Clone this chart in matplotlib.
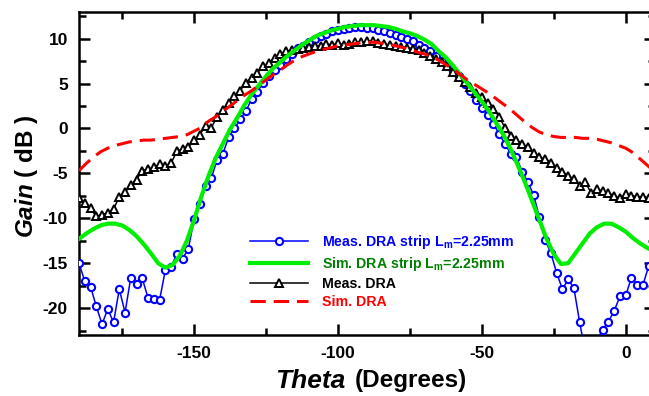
import numpy as np
import matplotlib
matplotlib.use("Agg")
import matplotlib.pyplot as plt
from matplotlib.ticker import MultipleLocator

plt.rcParams['font.family'] = ['Liberation Sans', 'DejaVu Sans']
plt.rcParams['font.weight'] = 'bold'
plt.rcParams['axes.unicode_minus'] = False
plt.rcParams['mathtext.fontset'] = 'custom'
plt.rcParams['mathtext.rm'] = 'Liberation Sans:bold'
plt.rcParams['mathtext.it'] = 'Liberation Sans:bold:italic'
plt.rcParams['mathtext.bf'] = 'Liberation Sans:bold'

# measured patterns, sampled every 2 degrees
theta_meas = np.arange(-190, 9, 2)
gain_meas_strip = [
    -15.0, -17.0, -17.6, -19.8, -21.8, -20.1, -21.6, -17.9, -20.5, -16.6,
    -17.3, -16.7, -18.9, -19.0, -19.1, -15.8, -15.4, -14.0, -14.5, -13.4,
    -10.1, -8.4, -6.4, -5.5, -3.5, -2.8, -1.0, 0.0, 1.0, 1.9,
    3.3, 4.1, 5.1, 5.8, 6.5, 7.1, 7.7, 8.3, 9.0, 9.2,
    9.6, 10.0, 10.3, 10.5, 10.8, 11.0, 11.1, 11.2, 11.3, 11.3,
    11.2, 11.2, 11.0, 10.8, 10.6, 10.4, 10.2, 10.0, 9.7, 9.3,
    9.0, 8.6, 8.1, 7.5, 7.1, 6.4, 5.8, 5.0, 4.2, 3.2,
    2.3, 1.5, 0.5, -0.6, -1.7, -2.8, -3.2, -4.8, -6.0, -7.4,
    -9.9, -12.4, -13.9, -16.1, -17.9, -16.8, -17.8, -21.6, -25.0, -26.0,
    -23.6, -22.4, -21.5, -20.3, -18.7, -18.6, -16.6, -17.4, -17.4, -15.3,
]
gain_meas_dra = [
    -7.8, -8.3, -8.9, -9.8, -9.6, -9.4, -9.0, -7.6, -7.1, -6.3,
    -5.7, -4.7, -4.5, -4.3, -4.0, -4.2, -3.9, -2.5, -2.3, -2.1,
    -1.3, -0.7, 0.3, 0.1, 1.3, 2.0, 2.8, 3.6, 4.2, 5.1,
    5.6, 6.2, 6.9, 7.3, 7.8, 8.3, 8.6, 8.7, 8.9, 9.0,
    9.1, 9.2, 9.2, 9.4, 9.3, 9.5, 9.3, 9.4, 9.6, 9.6,
    9.7, 9.7, 9.5, 9.4, 9.3, 9.2, 9.1, 9.0, 8.9, 8.7,
    8.4, 8.1, 7.7, 7.4, 7.0, 6.3, 5.7, 5.2, 4.6, 4.0,
    3.5, 2.8, 2.2, 1.3, 0.1, -0.8, -1.3, -1.7, -2.1, -2.7,
    -3.2, -3.4, -3.8, -4.4, -4.8, -5.3, -5.6, -6.4, -6.0, -7.2,
    -6.7, -7.0, -7.2, -7.5, -7.8, -7.3, -7.5, -7.6, -7.6, -7.7,
]

# simulated patterns, sampled every 2.5 degrees
theta_sim = np.arange(-190, 10.01, 2.5)
gain_sim_strip = [
    -12.3, -11.7, -11.2, -10.8, -10.6, -10.6, -10.8, -11.3, -12.0, -12.9,
    -13.9, -15.0, -15.5, -15.2, -14.2, -12.5, -10.2, -7.6, -5.3, -3.3,
    -1.7, -0.1, 1.2, 2.6, 3.8, 4.8, 5.8, 6.7, 7.4, 8.1,
    8.7, 9.3, 9.8, 10.3, 10.6, 10.9, 11.1, 11.3, 11.4, 11.5,
    11.5, 11.5, 11.4, 11.3, 11.1, 10.8, 10.6, 10.3, 9.9, 9.4,
    8.6, 7.9, 7.0, 6.0, 5.0, 4.0, 3.0, 1.9, 0.6, -0.7,
    -2.3, -4.1, -6.0, -8.1, -10.2, -12.3, -14.0, -15.1, -15.0, -13.9,
    -12.8, -11.7, -11.0, -10.6, -10.6, -11.0, -11.5, -12.2, -12.8, -13.3,
    -13.7,
]
gain_sim_dra = [
    -4.7, -3.9, -3.2, -2.6, -2.2, -1.9, -1.7, -1.5, -1.4, -1.3,
    -1.3, -1.2, -1.1, -1.0, -0.9, -0.7, -0.3, 0.1, 0.8, 1.3,
    1.9, 2.5, 3.1, 3.7, 4.2, 4.8, 5.4, 6.0, 6.5, 7.1,
    7.6, 8.0, 8.3, 8.6, 8.8, 9.0, 9.2, 9.3, 9.4, 9.5,
    9.6, 9.6, 9.5, 9.4, 9.2, 9.0, 8.8, 8.5, 8.3, 8.0,
    7.6, 7.1, 6.6, 6.0, 5.4, 4.9, 4.4, 3.9, 3.3, 2.7,
    2.1, 1.4, 0.7, 0.1, -0.4, -0.7, -0.9, -1.0, -1.0, -1.0,
    -1.1, -1.1, -1.2, -1.4, -1.6, -1.9, -2.2, -2.7, -3.4, -4.1,
    -4.8,
]

labels = [
    r'Meas. DRA strip $\mathbf{L_m}$=2.25mm',
    r'Sim. DRA strip $\mathbf{L_m}$=2.25mm',
    'Meas. DRA',
    'Sim. DRA',
]
label_colors = ['#0000ff', '#008000', '#000000', '#ff0000']

fig = plt.figure(figsize=(6.49, 3.96), dpi=100)
ax = fig.add_axes([79 / 649, 1 - 335 / 396, 575.5 / 649, 323.3 / 396])

h1, = ax.plot(theta_meas, gain_meas_strip, color='#0000ff', lw=1.1,
              marker='o', ms=5.2, mew=1.5, mfc='white', mec='#0000ff', zorder=3)
h3, = ax.plot(theta_meas, gain_meas_dra, color='black', lw=1.1,
              marker='^', ms=5.8, mew=1.4, mfc='white', mec='black', zorder=4)
h2, = ax.plot(theta_sim, gain_sim_strip, color='#00ee00', lw=3.0, zorder=5)
h4, = ax.plot(theta_sim, gain_sim_dra, color='#ff0000', lw=2.2,
              linestyle=(0, (5, 2.6)), zorder=6)

ax.set_xlim(-190, 10)
ax.set_ylim(-23, 13)
ax.xaxis.set_major_locator(MultipleLocator(50))
ax.xaxis.set_minor_locator(MultipleLocator(25))
ax.yaxis.set_major_locator(MultipleLocator(5))
ax.yaxis.set_minor_locator(MultipleLocator(2.5))
ax.tick_params(which='both', direction='in', top=True, right=True, width=1.8)
ax.tick_params(which='major', length=8, labelsize=12.5, pad=8)
ax.tick_params(which='minor', length=5)
for s in ax.spines.values():
    s.set_linewidth(1.8)
for lab in ax.get_xticklabels() + ax.get_yticklabels():
    lab.set_fontweight('bold')

# axis titles
px = lambda x: (x - 79) / 575.5
py = lambda y: (335 - y) / 323.3
ax.text(px(345), py(381), 'Theta', transform=ax.transAxes,
        ha='right', va='center', fontsize=19, fontweight='bold',
        fontstyle='italic')
ax.text(px(355), py(381), '(Degrees)', transform=ax.transAxes,
        ha='left', va='center', fontsize=17.5, fontweight='bold')
ax.text(px(27), py(176), r'$\mathit{Gain}$ ( dB )', transform=ax.transAxes,
        rotation=90, ha='center', va='center', fontsize=17.5,
        fontweight='bold')

leg = ax.legend([h1, h2, h3, h4], labels, loc='upper left',
                bbox_to_anchor=(px(250), py(233)),
                frameon=False, fontsize=10.2, handlelength=4.1,
                handletextpad=1.0, labelspacing=0.28, borderpad=0,
                borderaxespad=0, numpoints=1)
for t, c in zip(leg.get_texts(), label_colors):
    t.set_color(c)
    t.set_fontweight('bold')

fig.savefig('out.png', dpi=100)
